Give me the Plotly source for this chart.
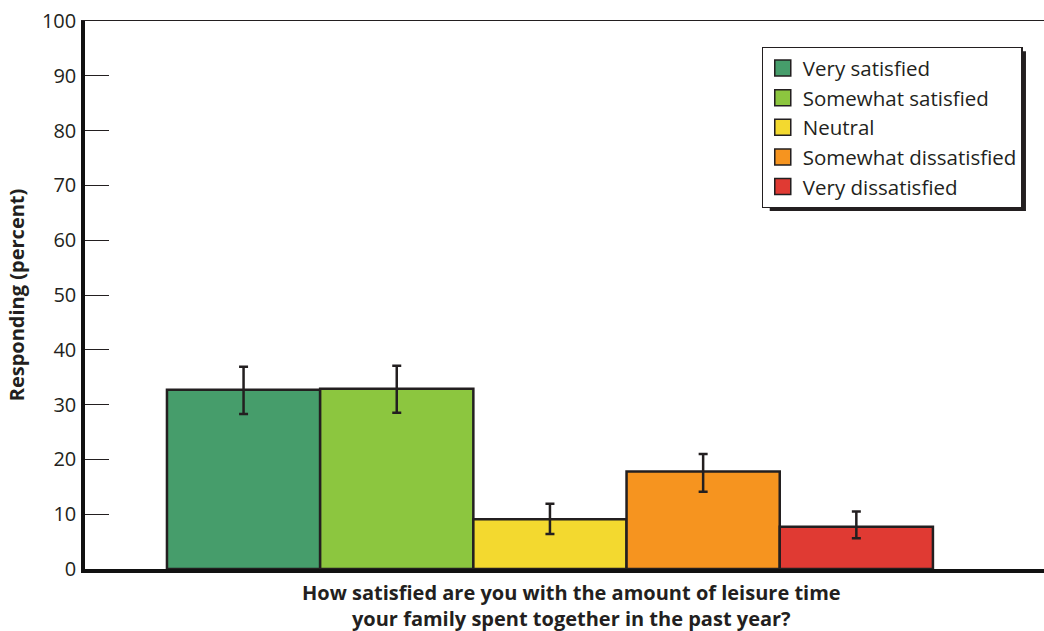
import plotly.graph_objects as go

categories = ["Very satisfied", "Somewhat satisfied", "Neutral",
              "Somewhat dissatisfied", "Very dissatisfied"]
values = [32.7, 32.9, 9.1, 17.8, 7.7]
err_plus = [4.2, 4.2, 2.8, 3.2, 2.8]
err_minus = [4.4, 4.4, 2.7, 3.7, 2.1]
colors = ["#469d6b", "#8cc63f", "#f3d92f", "#f6941f", "#e03a33"]
question = "How satisfied are you with the amount of leisure time<br>your family spent together in the past year?"
y_title = "Responding (percent)"
y_ticks = [0, 10, 20, 30, 40, 50, 60, 70, 80, 90, 100]

INK = "#231f20"
FONT = "Open Sans"

fig = go.Figure()
for name, v, ep, em, c in zip(categories, values, err_plus, err_minus, colors):
    fig.add_trace(go.Bar(
        x=["q"], y=[v], name=name, showlegend=False,
        marker=dict(color=c, line=dict(color=INK, width=2.5)),
        error_y=dict(type="data", symmetric=False, array=[ep], arrayminus=[em],
                     color=INK, thickness=2.5, width=4.5),
    ))
# legend entries with larger swatches
for name, c in zip(categories, colors):
    fig.add_trace(go.Scatter(
        x=[None], y=[None], mode="markers", name=name,
        marker=dict(symbol="square", size=18, color=c, line=dict(color=INK, width=1.5)),
    ))

# thin top frame line via an overlaying axis
fig.add_trace(go.Scatter(x=[None], y=[None], xaxis="x2", showlegend=False))

fig.update_layout(
    width=1044, height=631,
    margin=dict(l=85, r=0, t=21, b=62, autoexpand=False),
    paper_bgcolor="white", plot_bgcolor="white",
    barmode="group", bargap=0.2, bargroupgap=0,
    font=dict(family=FONT, color=INK, size=20),
    xaxis=dict(range=[-0.4856, 0.516], showticklabels=False, ticks="",
               showline=True, linecolor="#111", linewidth=3.5, automargin=False,
               showgrid=False, zeroline=False, fixedrange=True),
    xaxis2=dict(overlaying="x", side="top", range=[0, 1], showticklabels=False,
                ticks="", showline=True, linecolor=INK, linewidth=1.2, automargin=False,
                showgrid=False, zeroline=False),
    yaxis=dict(range=[0, 100], tickvals=y_ticks, ticks="inside", ticklen=24,
               tickwidth=1.3, tickcolor=INK, showline=True, linecolor="#111",
               linewidth=3.5, showgrid=False, zeroline=False, automargin=False,
               ticklabelstandoff=1,
               tickfont=dict(size=20, family=FONT, color=INK),
               title=dict(text="<b>" + y_title + "</b>", standoff=13,
                          font=dict(size=20, family=FONT, color=INK))),
    legend=dict(x=0.7055, y=0.9526, xanchor="left", yanchor="top",
                bgcolor="white", bordercolor=INK, borderwidth=1.2,
                font=dict(size=20.5, family=FONT, color=INK),
                itemsizing="trace", tracegroupgap=0),
    shapes=[dict(type="rect", xref="paper", yref="paper", layer="above",
                 x0=0.714, x1=0.9812, y0=0.6533, y1=0.945,
                 fillcolor=INK, line=dict(width=0))],
    annotations=[dict(text="<b>" + question + "</b>", xref="paper", yref="paper",
                      x=0.507, y=0, yshift=-8, xanchor="center", yanchor="top",
                      showarrow=False, font=dict(size=20, family=FONT, color=INK))],
)

fig.write_html("out.html", config={"displayModeBar": False},
               post_script="document.body.style.margin='0';")
